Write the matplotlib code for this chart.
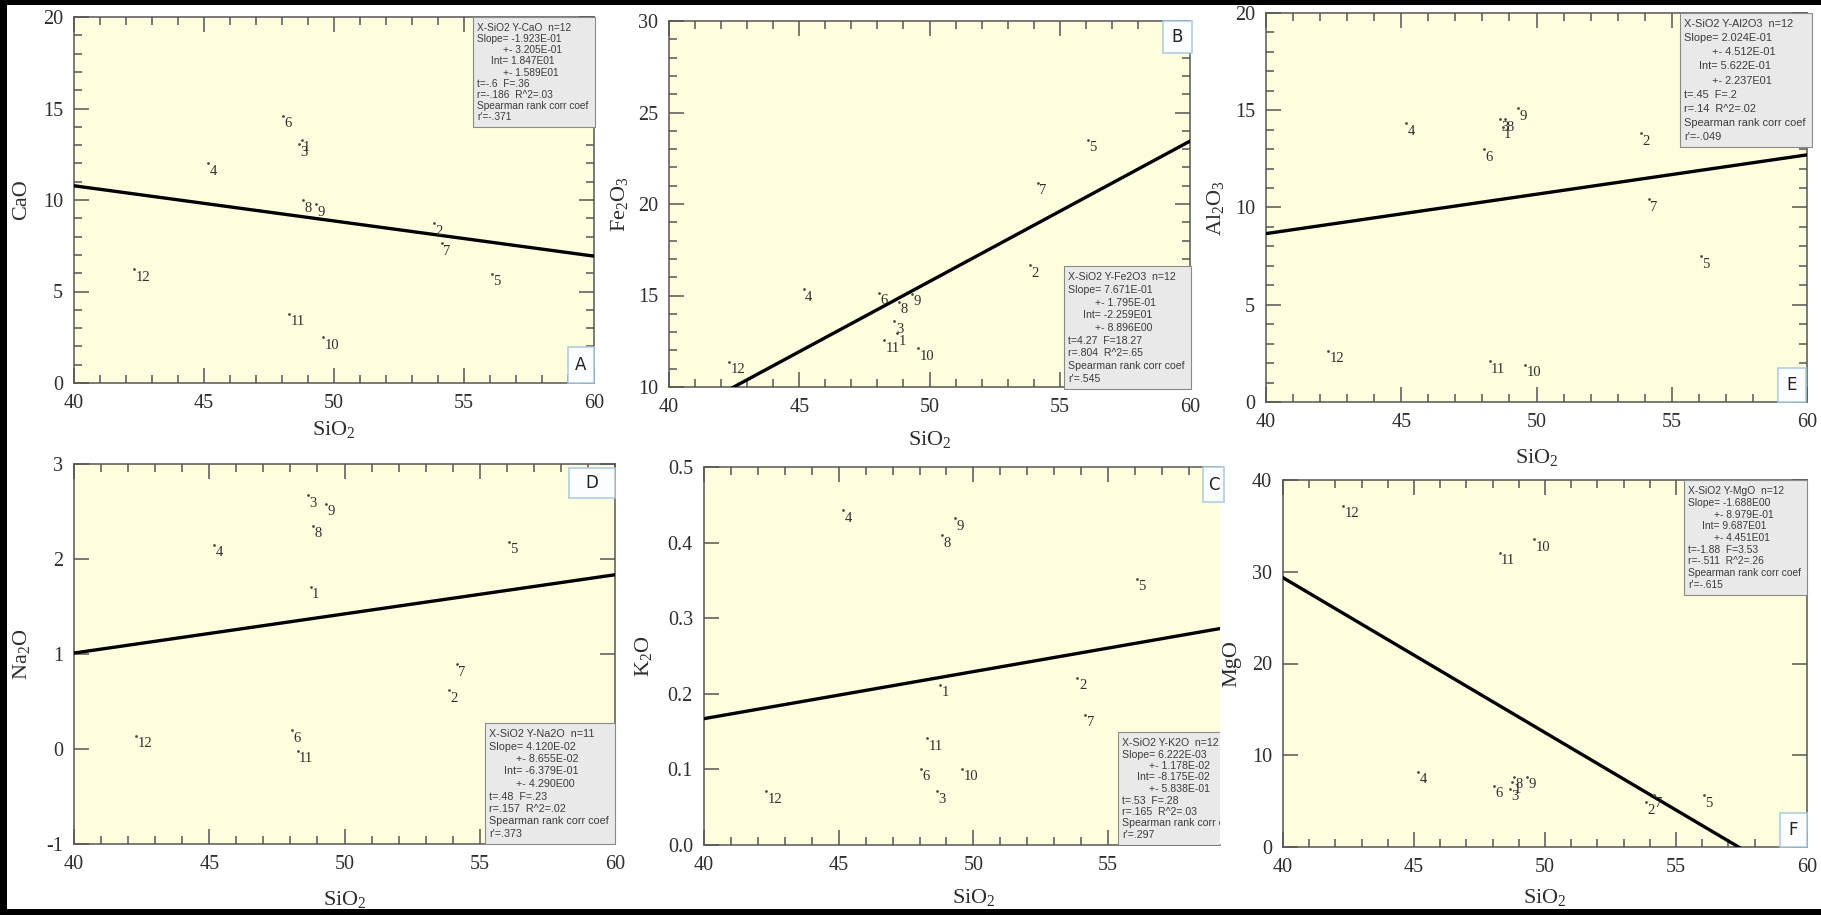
import matplotlib
matplotlib.use("Agg")
import matplotlib.pyplot as plt
from matplotlib.patches import Rectangle
from matplotlib.ticker import MultipleLocator, NullLocator, FormatStrFormatter
from matplotlib.transforms import Affine2D

# ---------------------------------------------------------------- data
samples = ["1", "2", "3", "4", "5", "6", "7", "8", "9", "10", "11", "12"]
sio2 = [48.75, 53.86, 48.65, 45.17, 56.07, 48.05, 54.15, 48.82, 49.32, 49.57, 48.27, 42.30]

cao = [13.30, 8.73, 13.05, 12.00, 5.96, 14.60, 7.64, 10.00, 9.78, 2.50, 3.78, 6.22]
fe2o3 = [12.95, 16.65, 13.60, 15.34, 23.50, 15.14, 21.15, 14.65, 15.10, 12.13, 12.55, 11.37]
al2o3 = [14.16, 13.82, 14.54, 14.33, 7.50, 13.00, 10.42, 14.54, 15.10, 1.92, 2.09, 2.63]
na2o = [1.71, 0.62, 2.67, 2.15, 2.18, 0.20, 0.89, 2.35, 2.58, None, -0.02, 0.14]
k2o = [0.212, 0.221, 0.071, 0.443, 0.352, 0.101, 0.172, 0.410, 0.432, 0.101, 0.141, 0.071]
mgo = [7.10, 4.90, 6.36, 8.18, 5.64, 6.65, 5.64, 7.64, 7.64, 33.56, 32.07, 37.20]

# least-squares fits (slope, intercept) as reported in the statistics boxes
fit_cao = (-1.923e-01, 1.847e01)
fit_fe2o3 = (7.671e-01, -2.259e01)
fit_al2o3 = (2.024e-01, 5.622e-01)
fit_na2o = (4.120e-02, -6.379e-01)
fit_k2o = (6.222e-03, -8.175e-02)
fit_mgo = (-1.688e00, 9.687e01)

stats_cao = ["X-SiO2 Y-CaO  n=12", "Slope= -1.923E-01", "+- 3.205E-01", "Int= 1.847E01",
             "+- 1.589E01", "t=-.6  F=.36", "r=-.186  R^2=.03", "Spearman rank corr coef", "r'=-.371"]
stats_fe2o3 = ["X-SiO2 Y-Fe2O3  n=12", "Slope= 7.671E-01", "+- 1.795E-01", "Int= -2.259E01",
               "+- 8.896E00", "t=4.27  F=18.27", "r=.804  R^2=.65", "Spearman rank corr coef", "r'=.545"]
stats_al2o3 = ["X-SiO2 Y-Al2O3  n=12", "Slope= 2.024E-01", "+- 4.512E-01", "Int= 5.622E-01",
               "+- 2.237E01", "t=.45  F=.2", "r=.14  R^2=.02", "Spearman rank corr coef", "r'=-.049"]
stats_na2o = ["X-SiO2 Y-Na2O  n=11", "Slope= 4.120E-02", "+- 8.655E-02", "Int= -6.379E-01",
              "+- 4.290E00", "t=.48  F=.23", "r=.157  R^2=.02", "Spearman rank corr coef", "r'=.373"]
stats_k2o = ["X-SiO2 Y-K2O  n=12", "Slope= 6.222E-03", "+- 1.178E-02", "Int= -8.175E-02",
             "+- 5.838E-01", "t=.53  F=.28", "r=.165  R^2=.03", "Spearman rank corr coef", "r'=.297"]
stats_mgo = ["X-SiO2 Y-MgO  n=12", "Slope= -1.688E00", "+- 8.979E-01", "Int= 9.687E01",
             "+- 4.451E01", "t=-1.88  F=3.53", "r=-.511  R^2=.26", "Spearman rank corr coef", "r'=-.615"]

# ---------------------------------------------------------------- style
W, H, DPI = 1821, 915, 100
plt.rcParams.update({
    "font.family": ["Liberation Serif", "DejaVu Serif"],
    "mathtext.fontset": "custom",
    "mathtext.rm": "Liberation Serif",
    "mathtext.it": "Liberation Serif:italic",
    "mathtext.bf": "Liberation Serif:bold",
    "axes.unicode_minus": False,
})

PLOT_BG = "#fefedf"
INK = "#2e2e2e"
AXIS_GREY = "#555555"
STAT_FONT = ["Liberation Sans Narrow", "Liberation Sans", "DejaVu Sans"]

fig = plt.figure(figsize=(W / DPI, H / DPI), dpi=DPI)
fig.patch.set_facecolor("white")
pix = Affine2D().scale(1.0 / W, -1.0 / H).translate(0, 1) + fig.transFigure


def add_panel(yvals, ylabel, ylim, ymajor, yminor, yfmt, fit, stats, letter,
              rect, xmax, stat_rect, letter_rect, ylab_x, xlab_y, clip_right=False):
    l, t, r, b = rect
    ax = fig.add_axes([l / W, 1 - b / H, (r - l) / W, (b - t) / H])
    ax.set_facecolor(PLOT_BG)
    ax.set_xlim(40, xmax)
    ax.set_ylim(*ylim)

    ax.xaxis.set_major_locator(MultipleLocator(5))
    ax.xaxis.set_minor_locator(MultipleLocator(1))
    ax.yaxis.set_major_locator(MultipleLocator(ymajor))
    if yminor:
        ax.yaxis.set_minor_locator(MultipleLocator(yminor))
    else:
        ax.yaxis.set_minor_locator(NullLocator())
    ax.yaxis.set_major_formatter(FormatStrFormatter(yfmt))

    ax.tick_params(which="both", direction="in", top=True, right=not clip_right,
                   color=AXIS_GREY, width=1.1, labelcolor=INK, labelsize=14.5, pad=8)
    ax.tick_params(which="major", length=10.5)
    ax.tick_params(which="minor", length=6.0)
    for sp in ax.spines.values():
        sp.set_color(AXIS_GREY)
        sp.set_linewidth(1.1)
    if clip_right:
        ax.spines["right"].set_visible(False)

    # regression line
    slope, icpt = fit
    xs = [40, 60]
    ax.plot(xs, [slope * v + icpt for v in xs], color="black", lw=2.4, zorder=3)

    # samples
    for name, xv, yv in zip(samples, sio2, yvals):
        if yv is None:
            continue
        ax.plot([xv], [yv], "o", ms=2.0, color="#4a4a4a", mec="none", zorder=4)
        ax.annotate(name, (xv, yv), xytext=(1.5, -8), textcoords="offset pixels",
                    ha="left", va="center", fontsize=10.5, color=INK, zorder=4)

    # axis titles
    cx = (l + r) / 2 if not clip_right else (l + l + (r - l) * (60 - 40) / (xmax - 40)) / 2
    ax.text(cx, xlab_y, r"SiO$_\mathregular{2}$", transform=pix, ha="center", va="center",
            fontsize=16, color=INK)
    ax.text(ylab_x, (t + b) / 2, ylabel, transform=pix, ha="center", va="center",
            rotation=90, fontsize=16, color=INK)

    # statistics box
    sl, st, sr, sb = stat_rect
    ax.add_patch(Rectangle((sl, st), sr - sl, sb - st, transform=pix, facecolor="#e9e9e9",
                           edgecolor="#8a8a8a", lw=0.8, zorder=6, clip_on=clip_right))
    bw = sr - sl
    step = (sb - st - 21) / 8.0
    fs = 7.3 * bw / 122.0
    indents = [0, 0, 0.21, 0.115, 0.21, 0, 0, 0, 0]
    for i, line in enumerate(stats):
        ax.text(sl + 4 + indents[i] * bw, st + 11 + i * step, line, transform=pix,
                ha="left", va="center", fontsize=fs, color="#3c3c3c",
                family=STAT_FONT, zorder=7, clip_on=clip_right)

    # panel letter
    ll, lt, lr, lb = letter_rect
    ax.add_patch(Rectangle((ll, lt), lr - ll, lb - lt, transform=pix, facecolor="#fbfdff",
                           edgecolor="#a9c9e6", lw=1.1, zorder=6, clip_on=False))
    ax.text((ll + lr) / 2, (lt + lb) / 2, letter, transform=pix, ha="center", va="center",
            fontsize=12, color="#222222", family=["DejaVu Sans"], zorder=7)
    return ax


add_panel(cao, "CaO", (0, 20), 5, 1, "%d", fit_cao, stats_cao, "A",
          (74, 17, 594, 383), 60, (473, 17, 595, 127), (568, 347, 594, 383), 22, 430)
add_panel(fe2o3, r"Fe$_\mathregular{2}$O$_\mathregular{3}$", (10, 30), 5, 1, "%d", fit_fe2o3,
          stats_fe2o3, "B", (669, 21, 1190, 387), 60, (1064, 266, 1191, 389),
          (1163, 21, 1192, 53), 620, 440)
add_panel(al2o3, r"Al$_\mathregular{2}$O$_\mathregular{3}$", (0, 20), 5, 1, "%d", fit_al2o3,
          stats_al2o3, "E", (1266, 13, 1807, 402), 60, (1680, 13, 1812, 147),
          (1778, 368, 1806, 402), 1216, 458)
add_panel(na2o, r"Na$_\mathregular{2}$O", (-1, 3), 1, None, "%d", fit_na2o, stats_na2o, "D",
          (74, 464, 615, 844), 60, (485, 723, 615, 844), (569, 468, 615, 498), 22, 900)
add_panel(k2o, r"K$_\mathregular{2}$O", (0, 0.5), 0.1, None, "%.1f", fit_k2o, stats_k2o, "C",
          (704, 467, 1220, 845), 40 + (1220 - 704) / 26.94, (1118, 732, 1245, 845),
          (1203, 467, 1224, 502), 644, 898, clip_right=True)
add_panel(mgo, "MgO", (0, 40), 10, None, "%d", fit_mgo, stats_mgo, "F",
          (1283, 480, 1807, 847), 60, (1684, 480, 1807, 595), (1780, 813, 1807, 847), 1232, 898)

# frame around the composite
for x0, y0, w, h in [(0, 0, 7, H), (0, 0, W, 5), (0, 909, W, 6)]:
    fig.patches.append(Rectangle((x0, y0), w, h, transform=pix, facecolor="black",
                                 edgecolor="none", zorder=10))

fig.savefig("out.png", dpi=DPI)
